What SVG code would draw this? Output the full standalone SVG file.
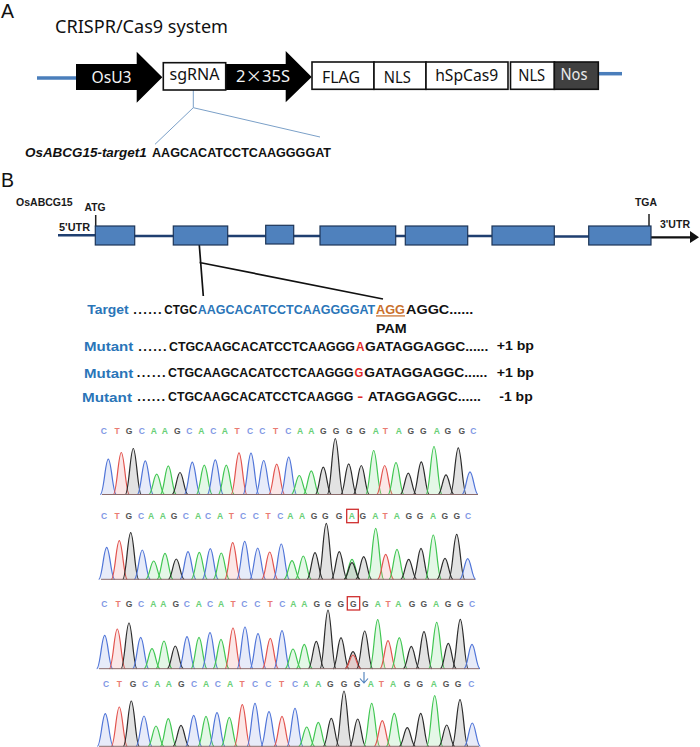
<svg xmlns="http://www.w3.org/2000/svg" width="700" height="747" viewBox="0 0 700 747">
<style>
text{font-family:"Liberation Sans",Arial,sans-serif}
.cal{font-family:"Noto Sans","Open Sans",sans-serif;fill:#111;font-size:16px}
.mid{text-anchor:middle}
.sec{font-size:19.5px;fill:#111}
.sq{font-weight:bold;font-size:13px;fill:#111}
.sq.tight{font-size:12.4px}
.sm{font-weight:bold;font-size:11px;fill:#1a1a1a}
.bl{fill:#2a75b8}
.rd{fill:#e02b27}
.or{fill:#c9702c}
.box{fill:#fff;stroke:#111;stroke-width:1.6}
.exon{fill:#4f81bd;stroke:#1d3557;stroke-width:1.2}
.cds{stroke:#1f3f70;stroke-width:2.5;fill:none}
.vec{stroke:#4a7ebb;stroke-width:3.5;fill:none}
.call{stroke:#7ba0c8;stroke-width:1;fill:none}
.bk{stroke:#111;stroke-width:1.7;fill:none}
.tick{stroke:#222;stroke-width:1.5;fill:none}
.bc{font-size:8.5px;font-weight:bold;text-anchor:middle}
.bc .c{fill:#7f97e4}.bc .t{fill:#ea7b72}.bc .g{fill:#555}.bc .a{fill:#69cf76}
#p{fill-opacity:.14;stroke-width:1.2;vector-effect:non-scaling-stroke}
use.c{fill:#4f74d8;stroke:#4f74d8}use.t{fill:#e2524d;stroke:#e2524d}use.g{fill:#2a2a2a;stroke:#2a2a2a}use.a{fill:#3fc651;stroke:#3fc651}
.base{stroke:#8a6a6a;stroke-width:1;fill:none}
.rbox{fill:none;stroke:#cf2f2f;stroke-width:1.3}
</style>
<defs>
<path id="p" d="M-8 0C-4.500 0-3-1 0-1S4.500 0 8 0"/>
<filter id="soft" x="-2%" y="-5%" width="104%" height="110%"><feGaussianBlur stdDeviation="0.35"/></filter>
</defs>

<text class="sec" x="1" y="18">A</text>
<text class="cal" x="55" y="33" style="font-size:18px" textLength="173" lengthAdjust="spacingAndGlyphs">CRISPR/Cas9 system</text>

<g id="connectors">
<path class="vec" d="M37 78H77"/>
<path class="vec" d="M598 73.700H622"/>
<path class="call" d="M193.300 90V107.700L155 144.300M193.300 107.700L320 137"/>
<path class="cds" d="M58 235.300H96M134 236H174M227 236H266M293 236H321M395 236H406M467 236H493M554 236.500H589"/>
<path class="tick" d="M95.700 215V227M649 214V227"/>
<path d="M651 237.300H691" stroke="#111" stroke-width="2.300" fill="none"/>
<path d="M690 231L699 237.300L690 243Z" fill="#111"/>
<path class="bk" d="M199.300 245L203.300 296M199.500 262.500L383 299"/>
<path d="M364 672V683M360 678.500L364 683L368 678.500" fill="none" stroke="#4a7ebb" stroke-width="1.100"/>
</g>

<g id="node-osu3"><path d="M76 64H136.700V51.700L162.300 77.300L136.700 102.700V90H76Z" fill="#000"/><text class="cal mid" x="111.500" y="83" style="fill:#f4f4f4" textLength="40" lengthAdjust="spacingAndGlyphs">OsU3</text></g>
<g id="node-35s"><path d="M225 64H285.700V51L311.700 77L285.700 102.300V90H225Z" fill="#000"/><text class="cal mid" x="263" y="82" style="fill:#f4f4f4" textLength="54" lengthAdjust="spacingAndGlyphs">2<tspan font-family="Noto Sans CJK SC">×</tspan>35S</text></g>
<g id="node-sgrna"><rect class="box" x="163.300" y="62.700" width="62.400" height="27.300"/><text class="cal mid" x="194.500" y="80" textLength="50" lengthAdjust="spacingAndGlyphs">sgRNA</text></g>
<g id="node-flag"><rect class="box" x="312" y="62" width="62" height="27.300"/><text class="cal mid" x="341" y="82.700" textLength="38" lengthAdjust="spacingAndGlyphs">FLAG</text></g>
<g id="node-nls1"><rect class="box" x="374" y="62" width="52" height="27.300"/><text class="cal mid" x="397.300" y="82.700" textLength="27" lengthAdjust="spacingAndGlyphs">NLS</text></g>
<g id="node-cas9"><rect class="box" x="426" y="62" width="82" height="27.300"/><text class="cal mid" x="466.700" y="80.700" textLength="63" lengthAdjust="spacingAndGlyphs">hSpCas9</text></g>
<g id="node-nls2"><rect class="box" x="510.500" y="62" width="44" height="27.300"/><text class="cal mid" x="531.700" y="80.700" textLength="27" lengthAdjust="spacingAndGlyphs">NLS</text></g>
<g id="node-nos"><rect class="box" x="554.300" y="62" width="44" height="27.300" style="fill:#404040"/><text class="cal mid" x="574" y="80" style="fill:#ececec" textLength="27" lengthAdjust="spacingAndGlyphs">Nos</text></g>

<text class="sq" x="25" y="156.700" font-style="italic" textLength="121.700" lengthAdjust="spacingAndGlyphs">OsABCG15-target1</text>
<text class="sq" x="152" y="156.700" textLength="179" lengthAdjust="spacingAndGlyphs">AAGCACATCCTCAAGGGGAT</text>

<text class="sec" x="1" y="187">B</text>
<text class="sm" x="16" y="205.700" textLength="56.700" lengthAdjust="spacingAndGlyphs">OsABCG15</text>
<text class="sm" x="84.500" y="210.700" textLength="21" lengthAdjust="spacingAndGlyphs">ATG</text>
<text class="sm" x="59" y="230.700" textLength="31" lengthAdjust="spacingAndGlyphs">5'UTR</text>
<text class="sm" x="635" y="206" textLength="22" lengthAdjust="spacingAndGlyphs">TGA</text>
<text class="sm" x="660" y="227.700" textLength="30" lengthAdjust="spacingAndGlyphs">3'UTR</text>

<g id="node-exon1"><rect class="exon" x="95.300" y="226" width="39.400" height="19"/></g>
<g id="node-exon2"><rect class="exon" x="173.300" y="226" width="54.400" height="19"/></g>
<g id="node-exon3"><rect class="exon" x="265.700" y="225.300" width="28" height="18.700"/></g>
<g id="node-exon4"><rect class="exon" x="320" y="226" width="75.700" height="19"/></g>
<g id="node-exon5"><rect class="exon" x="405.300" y="226" width="62.400" height="19"/></g>
<g id="node-exon6"><rect class="exon" x="492" y="226" width="62.300" height="19"/></g>
<g id="node-exon7"><rect class="exon" x="588.700" y="226" width="62.300" height="19"/></g>

<g id="alignment">
<text class="sq bl" x="87.300" y="314.300" textLength="41.400" lengthAdjust="spacingAndGlyphs">Target</text>
<text class="sq" x="133.300" y="314.300" textLength="28.400" lengthAdjust="spacing">......</text>
<text class="sq" x="164.300" y="314.300" textLength="33" lengthAdjust="spacingAndGlyphs">CTGC</text>
<text class="sq tight bl" x="197.700" y="314.300" textLength="177.500" lengthAdjust="spacingAndGlyphs">AAGCACATCCTCAAGGGGAT</text>
<text class="sq tight or" x="376" y="314.300" textLength="29" lengthAdjust="spacingAndGlyphs" text-decoration="underline">AGG</text>
<text class="sq tight" x="406" y="314.300" textLength="67.300" lengthAdjust="spacingAndGlyphs">AGGC......</text>
<text class="sq" x="376" y="333.300" textLength="30.700" lengthAdjust="spacingAndGlyphs">PAM</text>

<text class="sq bl" x="84" y="351" textLength="49.300" lengthAdjust="spacingAndGlyphs">Mutant</text>
<text class="sq" x="138.300" y="351" textLength="28.400" lengthAdjust="spacing">......</text>
<text class="sq tight" x="169" y="351" textLength="186" lengthAdjust="spacingAndGlyphs">CTGCAAGCACATCCTCAAGGG</text>
<text class="sq tight rd" x="356" y="351" textLength="8.500" lengthAdjust="spacingAndGlyphs">A</text>
<text class="sq tight" x="365" y="351" textLength="123.300" lengthAdjust="spacingAndGlyphs">GATAGGAGGC......</text>
<text class="sq" x="496.700" y="350" textLength="37.300" lengthAdjust="spacingAndGlyphs">+1 bp</text>

<text class="sq bl" x="84" y="377.700" textLength="49.300" lengthAdjust="spacingAndGlyphs">Mutant</text>
<text class="sq" x="136.700" y="377" textLength="29" lengthAdjust="spacing">......</text>
<text class="sq tight" x="168" y="377" textLength="185.500" lengthAdjust="spacingAndGlyphs">CTGCAAGCACATCCTCAAGGG</text>
<text class="sq tight rd" x="354.600" y="377" textLength="8.800" lengthAdjust="spacingAndGlyphs">G</text>
<text class="sq tight" x="364.300" y="377" textLength="123" lengthAdjust="spacingAndGlyphs">GATAGGAGGC......</text>
<text class="sq" x="496.700" y="377" textLength="37.300" lengthAdjust="spacingAndGlyphs">+1 bp</text>

<text class="sq bl" x="82" y="402.300" textLength="50" lengthAdjust="spacingAndGlyphs">Mutant</text>
<text class="sq" x="137.300" y="401" textLength="27.700" lengthAdjust="spacing">......</text>
<text class="sq tight" x="168" y="401" textLength="185.300" lengthAdjust="spacingAndGlyphs">CTGCAAGCACATCCTCAAGGG</text>
<text class="sq tight rd" x="357.300" y="401" textLength="6" lengthAdjust="spacingAndGlyphs">-</text>
<text class="sq tight" x="367.700" y="401" textLength="113.300" lengthAdjust="spacingAndGlyphs">ATAGGAGGC......</text>
<text class="sq" x="499.300" y="401" textLength="33.400" lengthAdjust="spacingAndGlyphs">-1 bp</text>
</g>

<g id="trace1">
<text class="bc" y="434.200" x="103.700 117 129 141.700 153.700 164.700 177.300 189.300 201.300 213.300 224.700 237 250 262.300 275.700 288.300 300 311.300 323.300 336 349.300 362.300 375.700 385.300 398.700 410.700 423.300 436.700 447.700 461.700 473.300"><tspan class="c">C</tspan><tspan class="t">T</tspan><tspan class="g">G</tspan><tspan class="c">C</tspan><tspan class="a">AA</tspan><tspan class="g">G</tspan><tspan class="c">C</tspan><tspan class="a">A</tspan><tspan class="c">C</tspan><tspan class="a">A</tspan><tspan class="t">T</tspan><tspan class="c">CC</tspan><tspan class="t">T</tspan><tspan class="c">C</tspan><tspan class="a">AA</tspan><tspan class="g">GGGG</tspan><tspan class="a">A</tspan><tspan class="t">T</tspan><tspan class="a">A</tspan><tspan class="g">GG</tspan><tspan class="a">A</tspan><tspan class="g">GG</tspan><tspan class="c">C</tspan></text>
<g filter="url(#soft)">
<use href="#p" class="c" transform="translate(108.300 494.500) scale(1 35.300)"/><use href="#p" class="t" transform="translate(121.300 494.500) scale(1 42)"/><use href="#p" class="g" transform="translate(133.300 494.500) scale(1 46)"/><use href="#p" class="c" transform="translate(145.300 494.500) scale(1 33.700)"/><use href="#p" class="a" transform="translate(156.700 494.500) scale(1 20.300)"/><use href="#p" class="a" transform="translate(168.300 494.500) scale(1 28.700)"/><use href="#p" class="g" transform="translate(180 494.500) scale(1 22)"/><use href="#p" class="c" transform="translate(192.300 494.500) scale(1 32.300)"/><use href="#p" class="a" transform="translate(204.300 494.500) scale(1 29.300)"/><use href="#p" class="c" transform="translate(215.300 494.500) scale(1 34.700)"/><use href="#p" class="a" transform="translate(226.300 494.500) scale(1 29.300)"/><use href="#p" class="t" transform="translate(239 494.500) scale(1 41.700)"/><use href="#p" class="c" transform="translate(251 494.500) scale(1 41.300)"/><use href="#p" class="c" transform="translate(263.700 494.500) scale(1 34)"/><use href="#p" class="t" transform="translate(276.700 494.500) scale(1 30.300)"/><use href="#p" class="c" transform="translate(288.700 494.500) scale(1 37.300)"/><use href="#p" class="a" transform="translate(299.300 494.500) scale(1 19)"/><use href="#p" class="a" transform="translate(311.300 494.500) scale(1 23.700)"/><use href="#p" class="g" transform="translate(323.300 494.500) scale(1 27.300)"/><use href="#p" class="g" transform="translate(335.300 494.500) scale(1 56)"/><use href="#p" class="g" transform="translate(348.700 494.500) scale(1 30.700)"/><use href="#p" class="g" transform="translate(361.300 494.500) scale(1 29)"/><use href="#p" class="a" transform="translate(373.700 494.500) scale(1 44)"/><use href="#p" class="t" transform="translate(384.700 494.500) scale(1 29)"/><use href="#p" class="a" transform="translate(396 494.500) scale(1 32)"/><use href="#p" class="g" transform="translate(408.300 494.500) scale(1 21.300)"/><use href="#p" class="g" transform="translate(421.300 494.500) scale(1 32.700)"/><use href="#p" class="a" transform="translate(434 494.500) scale(1 48)"/><use href="#p" class="g" transform="translate(446 494.500) scale(1 19.700)"/><use href="#p" class="g" transform="translate(458.300 494.500) scale(1 46.700)"/><use href="#p" class="c" transform="translate(470 494.500) scale(1 22.700)"/>
<path class="base" d="M102 494.500H478"/>
</g>
</g>

<g id="trace2">
<text class="bc" y="519.200" x="104 117 128.700 141 151 162.700 174 185.700 198 208 220 231.300 243 255.700 268 280.300 290.300 302 314 325.300 339 351.700 362.700 375.300 385 396.700 408.700 420 433 444.700 456.700 468"><tspan class="c">C</tspan><tspan class="t">T</tspan><tspan class="g">G</tspan><tspan class="c">C</tspan><tspan class="a">AA</tspan><tspan class="g">G</tspan><tspan class="c">C</tspan><tspan class="a">A</tspan><tspan class="c">C</tspan><tspan class="a">A</tspan><tspan class="t">T</tspan><tspan class="c">CC</tspan><tspan class="t">T</tspan><tspan class="c">C</tspan><tspan class="a">AA</tspan><tspan class="g">GGG</tspan><tspan class="a">A</tspan><tspan class="g">G</tspan><tspan class="a">A</tspan><tspan class="t">T</tspan><tspan class="a">A</tspan><tspan class="g">GG</tspan><tspan class="a">A</tspan><tspan class="g">GG</tspan><tspan class="c">C</tspan></text>
<rect class="rbox" x="346.700" y="509.300" width="11.600" height="13.400"/>
<g filter="url(#soft)">
<use href="#p" class="c" transform="translate(106.700 579.300) scale(1 32)"/><use href="#p" class="t" transform="translate(119.300 579.300) scale(1 38.700)"/><use href="#p" class="g" transform="translate(130.700 579.300) scale(1 46.700)"/><use href="#p" class="c" transform="translate(142.300 579.300) scale(1 29.300)"/><use href="#p" class="a" transform="translate(153.700 579.300) scale(1 18.300)"/><use href="#p" class="a" transform="translate(165 579.300) scale(1 26)"/><use href="#p" class="g" transform="translate(176.300 579.300) scale(1 20.300)"/><use href="#p" class="c" transform="translate(188 579.300) scale(1 27.700)"/><use href="#p" class="a" transform="translate(199.300 579.300) scale(1 27)"/><use href="#p" class="c" transform="translate(210.300 579.300) scale(1 30.700)"/><use href="#p" class="a" transform="translate(221.300 579.300) scale(1 26.300)"/><use href="#p" class="t" transform="translate(232.700 579.300) scale(1 36.700)"/><use href="#p" class="c" transform="translate(244.700 579.300) scale(1 38)"/><use href="#p" class="c" transform="translate(257.700 579.300) scale(1 31.300)"/><use href="#p" class="t" transform="translate(269.700 579.300) scale(1 27.300)"/><use href="#p" class="c" transform="translate(281.300 579.300) scale(1 35.300)"/><use href="#p" class="a" transform="translate(292 579.300) scale(1 18.700)"/><use href="#p" class="a" transform="translate(303.300 579.300) scale(1 23.300)"/><use href="#p" class="g" transform="translate(315 579.300) scale(1 26.700)"/><use href="#p" class="g" transform="translate(326.300 579.300) scale(1 56)"/><use href="#p" class="g" transform="translate(339.300 579.300) scale(1 27.700)"/><use href="#p" class="a" transform="translate(352 579.300) scale(1 20)"/><use href="#p" class="g" transform="translate(352 579.300) scale(1 16.700)"/><use href="#p" class="g" transform="translate(363.700 579.300) scale(1 22.700)"/><use href="#p" class="a" transform="translate(375.700 579.300) scale(1 51)"/><use href="#p" class="t" transform="translate(385.700 579.300) scale(1 25)"/><use href="#p" class="a" transform="translate(397 579.300) scale(1 30)"/><use href="#p" class="g" transform="translate(408.700 579.300) scale(1 20)"/><use href="#p" class="g" transform="translate(421 579.300) scale(1 31)"/><use href="#p" class="a" transform="translate(433.300 579.300) scale(1 44.300)"/><use href="#p" class="g" transform="translate(445 579.300) scale(1 21)"/><use href="#p" class="g" transform="translate(456.700 579.300) scale(1 45)"/><use href="#p" class="c" transform="translate(467.700 579.300) scale(1 20.700)"/>
<path class="base" d="M101 579.300H475"/>
</g>
</g>

<g id="trace3">
<text class="bc" y="606.600" x="104.300 118 129 141 153.300 163.300 175.700 186.700 198.700 210 221 233 244.300 257.300 270 282.300 293.300 304.300 316.700 328 340.700 353.300 365.300 377.700 388 398.300 412 423.700 436 448 460.300 472"><tspan class="c">C</tspan><tspan class="t">T</tspan><tspan class="g">G</tspan><tspan class="c">C</tspan><tspan class="a">AA</tspan><tspan class="g">G</tspan><tspan class="c">C</tspan><tspan class="a">A</tspan><tspan class="c">C</tspan><tspan class="a">A</tspan><tspan class="t">T</tspan><tspan class="c">CC</tspan><tspan class="t">T</tspan><tspan class="c">C</tspan><tspan class="a">AA</tspan><tspan class="g">GGGGG</tspan><tspan class="a">A</tspan><tspan class="t">T</tspan><tspan class="a">A</tspan><tspan class="g">GG</tspan><tspan class="a">A</tspan><tspan class="g">GG</tspan><tspan class="c">C</tspan></text>
<rect class="rbox" x="347.300" y="596.700" width="12.400" height="13.300"/>
<g filter="url(#soft)">
<use href="#p" class="c" transform="translate(104.700 668.700) scale(1 33.300)"/><use href="#p" class="t" transform="translate(117.300 668.700) scale(1 39.700)"/><use href="#p" class="g" transform="translate(129 668.700) scale(1 45.700)"/><use href="#p" class="c" transform="translate(140.700 668.700) scale(1 31.300)"/><use href="#p" class="a" transform="translate(152 668.700) scale(1 20)"/><use href="#p" class="a" transform="translate(164 668.700) scale(1 27.700)"/><use href="#p" class="g" transform="translate(175.300 668.700) scale(1 22.700)"/><use href="#p" class="c" transform="translate(187 668.700) scale(1 32)"/><use href="#p" class="a" transform="translate(199 668.700) scale(1 31.300)"/><use href="#p" class="c" transform="translate(210 668.700) scale(1 36)"/><use href="#p" class="a" transform="translate(221 668.700) scale(1 29.300)"/><use href="#p" class="t" transform="translate(233 668.700) scale(1 40.700)"/><use href="#p" class="c" transform="translate(245 668.700) scale(1 41.700)"/><use href="#p" class="c" transform="translate(258 668.700) scale(1 35)"/><use href="#p" class="t" transform="translate(270.300 668.700) scale(1 30.300)"/><use href="#p" class="c" transform="translate(282 668.700) scale(1 38)"/><use href="#p" class="a" transform="translate(293 668.700) scale(1 19.700)"/><use href="#p" class="a" transform="translate(304.300 668.700) scale(1 24.300)"/><use href="#p" class="g" transform="translate(316.300 668.700) scale(1 27.300)"/><use href="#p" class="g" transform="translate(328 668.700) scale(1 58.700)"/><use href="#p" class="g" transform="translate(341 668.700) scale(1 31)"/><use href="#p" class="g" transform="translate(353 668.700) scale(1 17)"/><use href="#p" class="t" transform="translate(353 668.700) scale(1 13.700)"/><use href="#p" class="g" transform="translate(364.700 668.700) scale(1 37.700)"/><use href="#p" class="a" transform="translate(377.700 668.700) scale(1 49)"/><use href="#p" class="t" transform="translate(388 668.700) scale(1 28)"/><use href="#p" class="a" transform="translate(399.300 668.700) scale(1 31)"/><use href="#p" class="g" transform="translate(411.300 668.700) scale(1 22.300)"/><use href="#p" class="g" transform="translate(424 668.700) scale(1 37)"/><use href="#p" class="a" transform="translate(436.700 668.700) scale(1 46.300)"/><use href="#p" class="g" transform="translate(448.300 668.700) scale(1 25.300)"/><use href="#p" class="g" transform="translate(460.300 668.700) scale(1 49.300)"/><use href="#p" class="c" transform="translate(472 668.700) scale(1 24.300)"/>
<path class="base" d="M99 668.700H479"/>
</g>
</g>

<g id="trace4">
<text class="bc" y="687.200" x="106 119.300 133 145 157.300 168.700 181.300 194 206 217.700 230 242 255 268.300 281.700 295 306 318.300 330.300 344 357 370.700 381.300 393 407 419.700 433.700 446 458 471.300"><tspan class="c">C</tspan><tspan class="t">T</tspan><tspan class="g">G</tspan><tspan class="c">C</tspan><tspan class="a">AA</tspan><tspan class="g">G</tspan><tspan class="c">C</tspan><tspan class="a">A</tspan><tspan class="c">C</tspan><tspan class="a">A</tspan><tspan class="t">T</tspan><tspan class="c">CC</tspan><tspan class="t">T</tspan><tspan class="c">C</tspan><tspan class="a">AA</tspan><tspan class="g">GGG</tspan><tspan class="a">A</tspan><tspan class="t">T</tspan><tspan class="a">A</tspan><tspan class="g">GG</tspan><tspan class="a">A</tspan><tspan class="g">GG</tspan><tspan class="c">C</tspan></text>
<g filter="url(#soft)">
<use href="#p" class="c" transform="translate(105.300 746.300) scale(1 32.700)"/><use href="#p" class="t" transform="translate(119.300 746.300) scale(1 39.300)"/><use href="#p" class="g" transform="translate(131.300 746.300) scale(1 45.300)"/><use href="#p" class="c" transform="translate(144 746.300) scale(1 30.300)"/><use href="#p" class="a" transform="translate(156 746.300) scale(1 20.300)"/><use href="#p" class="a" transform="translate(168.300 746.300) scale(1 27.700)"/><use href="#p" class="g" transform="translate(181 746.300) scale(1 21)"/><use href="#p" class="c" transform="translate(193.700 746.300) scale(1 31)"/><use href="#p" class="a" transform="translate(206 746.300) scale(1 30)"/><use href="#p" class="c" transform="translate(217 746.300) scale(1 33.700)"/><use href="#p" class="a" transform="translate(229.300 746.300) scale(1 29)"/><use href="#p" class="t" transform="translate(242.300 746.300) scale(1 41.700)"/><use href="#p" class="c" transform="translate(255 746.300) scale(1 43)"/><use href="#p" class="c" transform="translate(269 746.300) scale(1 34.700)"/><use href="#p" class="t" transform="translate(282 746.300) scale(1 30)"/><use href="#p" class="c" transform="translate(295 746.300) scale(1 38)"/><use href="#p" class="a" transform="translate(306.700 746.300) scale(1 19.300)"/><use href="#p" class="a" transform="translate(318.300 746.300) scale(1 24)"/><use href="#p" class="g" transform="translate(331.300 746.300) scale(1 28)"/><use href="#p" class="g" transform="translate(344 746.300) scale(1 55.300)"/><use href="#p" class="g" transform="translate(357.700 746.300) scale(1 27.300)"/><use href="#p" class="a" transform="translate(371.700 746.300) scale(1 43)"/><use href="#p" class="t" transform="translate(382.300 746.300) scale(1 25.700)"/><use href="#p" class="a" transform="translate(394.300 746.300) scale(1 33)"/><use href="#p" class="g" transform="translate(407.300 746.300) scale(1 18.700)"/><use href="#p" class="g" transform="translate(420.700 746.300) scale(1 33)"/><use href="#p" class="a" transform="translate(434.700 746.300) scale(1 50.700)"/><use href="#p" class="g" transform="translate(446.700 746.300) scale(1 21.300)"/><use href="#p" class="g" transform="translate(460 746.300) scale(1 46.700)"/><use href="#p" class="c" transform="translate(472.300 746.300) scale(1 23.300)"/>
<path class="base" d="M99 746.300H479"/>
</g>
</g>
</svg>
